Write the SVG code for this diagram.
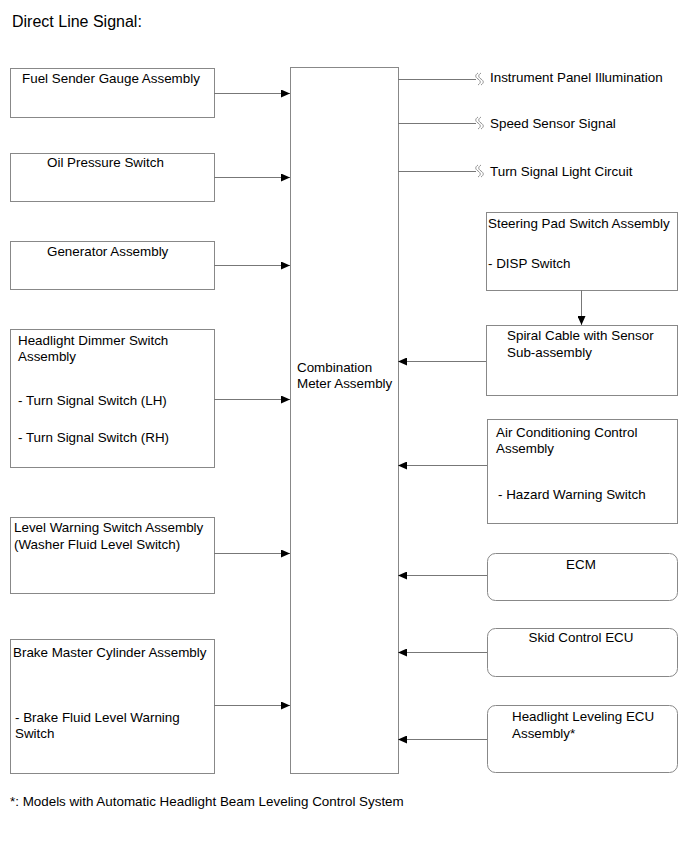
<svg xmlns="http://www.w3.org/2000/svg" width="691" height="855" viewBox="0 0 691 855">
<style>
text{font-family:"Liberation Sans",Arial,sans-serif;font-size:13.4px;fill:#000}
.t{font-size:16px}
.f{font-size:13.4px}
.box{fill:#fff;stroke:#888;stroke-width:1}
.ln{stroke:#777;stroke-width:1;fill:none}
.sq{stroke:#777;stroke-width:0.8;fill:none}
.c{text-anchor:middle}
</style>
<defs>
<marker id="ah" markerWidth="10" markerHeight="8" refX="9" refY="4" orient="auto" markerUnits="userSpaceOnUse">
<path d="M0,0 L9,4 L0,8 Z" fill="#000"/>
</marker>
</defs>
<text class="t" x="12" y="27">Direct Line Signal:</text>

<g id="fuel"><rect class="box" x="10.5" y="68.5" width="204" height="49"/><text x="22" y="83">Fuel Sender Gauge Assembly</text></g>
<g id="oil"><rect class="box" x="10.5" y="153.5" width="204" height="48"/><text x="47" y="167">Oil Pressure Switch</text></g>
<g id="generator"><rect class="box" x="10.5" y="241.5" width="204" height="48"/><text x="47" y="256">Generator Assembly</text></g>
<g id="dimmer"><rect class="box" x="10.5" y="329.5" width="204" height="138"/><text x="18" y="345">Headlight Dimmer Switch</text><text x="18" y="361">Assembly</text><text x="18" y="405">- Turn Signal Switch (LH)</text><text x="18" y="442">- Turn Signal Switch (RH)</text></g>
<g id="level"><rect class="box" x="10.5" y="517.5" width="204" height="76"/><text x="14" y="532">Level Warning Switch Assembly</text><text x="14" y="549">(Washer Fluid Level Switch)</text></g>
<g id="brake"><rect class="box" x="10.5" y="639.5" width="204" height="134"/><text x="13" y="657">Brake Master Cylinder Assembly</text><text x="15" y="722">- Brake Fluid Level Warning</text><text x="15" y="738">Switch</text></g>

<g id="meter"><rect class="box" x="290.5" y="67.5" width="108" height="706"/><text x="297" y="372">Combination</text><text x="297" y="388">Meter Assembly</text></g>

<g id="illum"><text x="490" y="82">Instrument Panel Illumination</text></g>
<g id="speed"><text x="490" y="128">Speed Sensor Signal</text></g>
<g id="turn"><text x="490" y="176">Turn Signal Light Circuit</text></g>

<g id="steering"><rect class="box" x="486.5" y="212.5" width="191" height="78"/><text x="488" y="228">Steering Pad Switch Assembly</text><text x="488" y="268">- DISP Switch</text></g>
<g id="spiral"><rect class="box" x="486.5" y="325.5" width="191" height="70"/><text x="507" y="340">Spiral Cable with Sensor</text><text x="507" y="357">Sub-assembly</text></g>
<g id="aircon"><rect class="box" x="487.5" y="419.5" width="190" height="104"/><text x="496" y="437">Air Conditioning Control</text><text x="496" y="453">Assembly</text><text x="498" y="499">- Hazard Warning Switch</text></g>
<g id="ecm"><rect class="box" x="487.5" y="553.5" width="190" height="47" rx="8"/><text class="c" x="581" y="569">ECM</text></g>
<g id="skid"><rect class="box" x="487.5" y="628.5" width="190" height="48" rx="8"/><text class="c" x="581" y="642">Skid Control ECU</text></g>
<g id="leveling"><rect class="box" x="487.5" y="705.5" width="190" height="67" rx="8"/><text x="512" y="721">Headlight Leveling ECU</text><text x="512" y="738">Assembly*</text></g>

<g id="connectors">
<line class="ln" x1="214" y1="93.5" x2="290" y2="93.5" marker-end="url(#ah)"/>
<line class="ln" x1="214" y1="177.5" x2="290" y2="177.5" marker-end="url(#ah)"/>
<line class="ln" x1="214" y1="265.5" x2="290" y2="265.5" marker-end="url(#ah)"/>
<line class="ln" x1="214" y1="399.5" x2="290" y2="399.5" marker-end="url(#ah)"/>
<line class="ln" x1="214" y1="553.5" x2="290" y2="553.5" marker-end="url(#ah)"/>
<line class="ln" x1="214" y1="705.5" x2="290" y2="705.5" marker-end="url(#ah)"/>

<line class="ln" x1="398" y1="79.5" x2="476" y2="79.5"/>
<path class="sq" d="M478,73 c-3,2 -3,4 0,6 c3,2 3,4 0,6 M481,73 c-3,2 -3,4 0,6 c3,2 3,4 0,6"/>
<line class="ln" x1="398" y1="123.5" x2="476" y2="123.5"/>
<path class="sq" d="M478,117 c-3,2 -3,4 0,6 c3,2 3,4 0,6 M481,117 c-3,2 -3,4 0,6 c3,2 3,4 0,6"/>
<line class="ln" x1="398" y1="171.5" x2="476" y2="171.5"/>
<path class="sq" d="M478,165 c-3,2 -3,4 0,6 c3,2 3,4 0,6 M481,165 c-3,2 -3,4 0,6 c3,2 3,4 0,6"/>

<line class="ln" x1="581.5" y1="290" x2="581.5" y2="325" marker-end="url(#ah)"/>
<line class="ln" x1="486" y1="361.5" x2="398" y2="361.5" marker-end="url(#ah)"/>
<line class="ln" x1="487" y1="465.5" x2="398" y2="465.5" marker-end="url(#ah)"/>
<line class="ln" x1="487" y1="575.5" x2="398" y2="575.5" marker-end="url(#ah)"/>
<line class="ln" x1="487" y1="652.5" x2="398" y2="652.5" marker-end="url(#ah)"/>
<line class="ln" x1="487" y1="739.5" x2="398" y2="739.5" marker-end="url(#ah)"/>
</g>

<text class="f" x="10" y="806">*: Models with Automatic Headlight Beam Leveling Control System</text>
</svg>
